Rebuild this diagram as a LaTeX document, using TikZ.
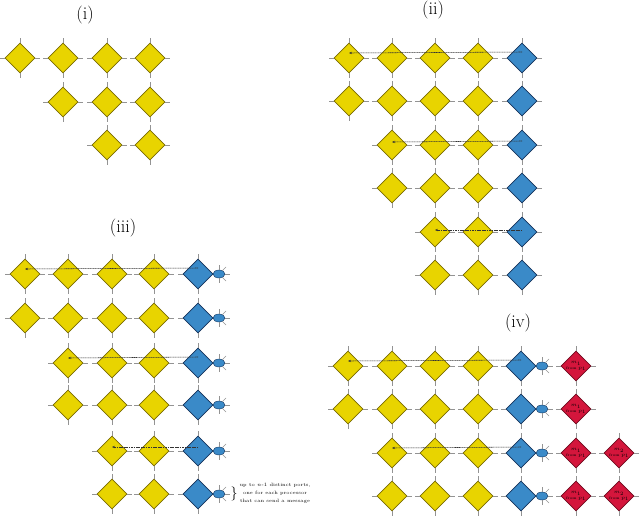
\documentclass[tikz,border=0pt]{standalone}
\usetikzlibrary{shapes.geometric,arrows.meta}
\definecolor{ylw}{RGB}{232,212,0}
\definecolor{ylwd}{RGB}{120,105,0}
\definecolor{blu}{RGB}{58,138,200}
\definecolor{blud}{RGB}{20,50,90}
\definecolor{rd}{RGB}{212,22,60}
\definecolor{rdd}{RGB}{110,10,30}
\tikzset{
  dbase/.style={diamond,aspect=1,minimum width=30pt,minimum height=30pt,inner sep=0pt,line width=0.6pt},
  yd/.style={dbase,fill=ylw,draw=ylwd},
  bd/.style={dbase,fill=blu,draw=blud},
  rdia/.style={dbase,fill=rd,draw=rdd,align=center,font=\fontsize{3.8}{5.6}\selectfont,text=black},
  bug/.style={ellipse,minimum width=12pt,minimum height=8pt,inner sep=0pt,fill=blu,draw=blud,line width=0.4pt},
  stub/.style={draw=gray!85,line width=0.6pt},
  spoke/.style={draw=gray!85,line width=0.5pt},
  msg/.style={draw=black!80,line width=0.55pt,dash pattern=on 1.2pt off 0.5pt,-{Stealth[length=3pt,width=2.4pt]}},
  ttl/.style={font=\fontsize{18}{20}\selectfont},
  note/.style={font=\fontsize{4.8}{8}\selectfont,align=center}
}
\newcommand\mkdia[4]{%
  \node[#4] (#1) at (#2,#3) {};
  \draw[stub] (#1.north) -- ++(0,5pt);
  \draw[stub] (#1.south) -- ++(0,-5pt);
  \draw[stub] (#1.east) -- ++(5pt,0);
  \draw[stub] (#1.west) -- ++(-5pt,0);
}
\newcommand\mkred[5]{%
  \node[rdia] (#1) at (#2,#3) {$m_{#4}$\\from $p_{#5}$};
  \draw[stub] (#1.north) -- ++(0,5pt);
  \draw[stub] (#1.south) -- ++(0,-5pt);
  \draw[stub] (#1.east) -- ++(5pt,0);
  \draw[stub] (#1.west) -- ++(-5pt,0);
}
\newcommand\mkbug[3]{%
  \node[bug] (#1) at (#2,#3) {};
  \foreach \ang in {90,45,0,-45,-90}{\draw[spoke] (#1.\ang) -- ++(\ang:5pt);}
}
\begin{document}
\begin{tikzpicture}[x=1pt,y=-1pt]
\useasboundingbox (0,0) rectangle (640,517);
% ---------- (i)
\node[ttl] (t1) at (85,15) {(i)};
\foreach \c/\x in {1/20,2/63,3/107,4/150}{\mkdia{a-1-\c}{\x}{58}{yd}}
\foreach \c/\x in {2/63,3/107,4/150}{\mkdia{a-2-\c}{\x}{102}{yd}}
\foreach \c/\x in {3/107,4/150}{\mkdia{a-3-\c}{\x}{145}{yd}}
% ---------- (ii)
\node[ttl] (t2) at (433,10) {(ii)};
\foreach \r/\y/\s in {1/58/1,2/101/1,3/145/2,4/188/2,5/232/3,6/275/3}{
  \foreach \c/\x in {1/349,2/392,3/435,4/478}{
    \ifnum\c<\s\else\mkdia{b-\r-\c}{\x}{\y}{yd}\fi}
  \mkdia{b-\r-5}{522}{\y}{bd}
}
\draw[msg] ([yshift=6pt]b-1-5.center) -- ([yshift=5pt]b-1-1.center);
\draw[msg] ([yshift=4pt]b-3-5.center) -- ([yshift=3pt]b-3-2.center);
\draw[msg] ([yshift=2pt]b-5-5.center) -- ([yshift=2pt]b-5-3.center);
% ---------- (iii)
\node[ttl] (t3) at (123,228) {(iii)};
\foreach \r/\y/\s in {1/274/1,2/318/1,3/363/2,4/405/2,5/451/3,6/494/3}{
  \foreach \c/\x in {1/25,2/68,3/112,4/154}{
    \ifnum\c<\s\else\mkdia{c-\r-\c}{\x}{\y}{yd}\fi}
  \mkdia{c-\r-5}{198}{\y}{bd}
  \mkbug{cb-\r}{219}{\y}
}
\draw[msg] ([yshift=6pt]c-1-5.center) -- ([yshift=5pt]c-1-1.center);
\draw[msg] ([yshift=6pt]c-3-5.center) -- ([yshift=5pt]c-3-2.center);
\draw[msg] ([yshift=4pt]c-5-5.center) -- ([yshift=4pt]c-5-3.center);
\node[font=\fontsize{14}{14}\selectfont] (brace) at (234,494) {\}};
\node[note] (nt) at (275,493) {up to $n$-$1$ distinct ports,\\one for each processor\\that can send a message};
% ---------- (iv)
\node[ttl] (t4) at (518,323) {(iv)};
\foreach \r/\y/\s in {1/366/1,2/409/1,3/453/2,4/496/2}{
  \foreach \c/\x in {1/348,2/392,3/435,4/478}{
    \ifnum\c<\s\else\mkdia{d-\r-\c}{\x}{\y}{yd}\fi}
  \mkdia{d-\r-5}{521}{\y}{bd}
  \mkbug{db-\r}{542}{\y}
  \mkred{dr-\r-1}{576}{\y}{1}{1}
}
\mkred{dr-3-2}{619}{453}{2}{1}
\mkred{dr-4-2}{619}{496}{2}{1}
\draw[msg] ([yshift=6pt]d-1-5.center) -- ([yshift=5pt]d-1-1.center);
\draw[msg] ([yshift=6pt]d-3-5.center) -- ([yshift=5pt]d-3-2.center);
\end{tikzpicture}
\end{document}
